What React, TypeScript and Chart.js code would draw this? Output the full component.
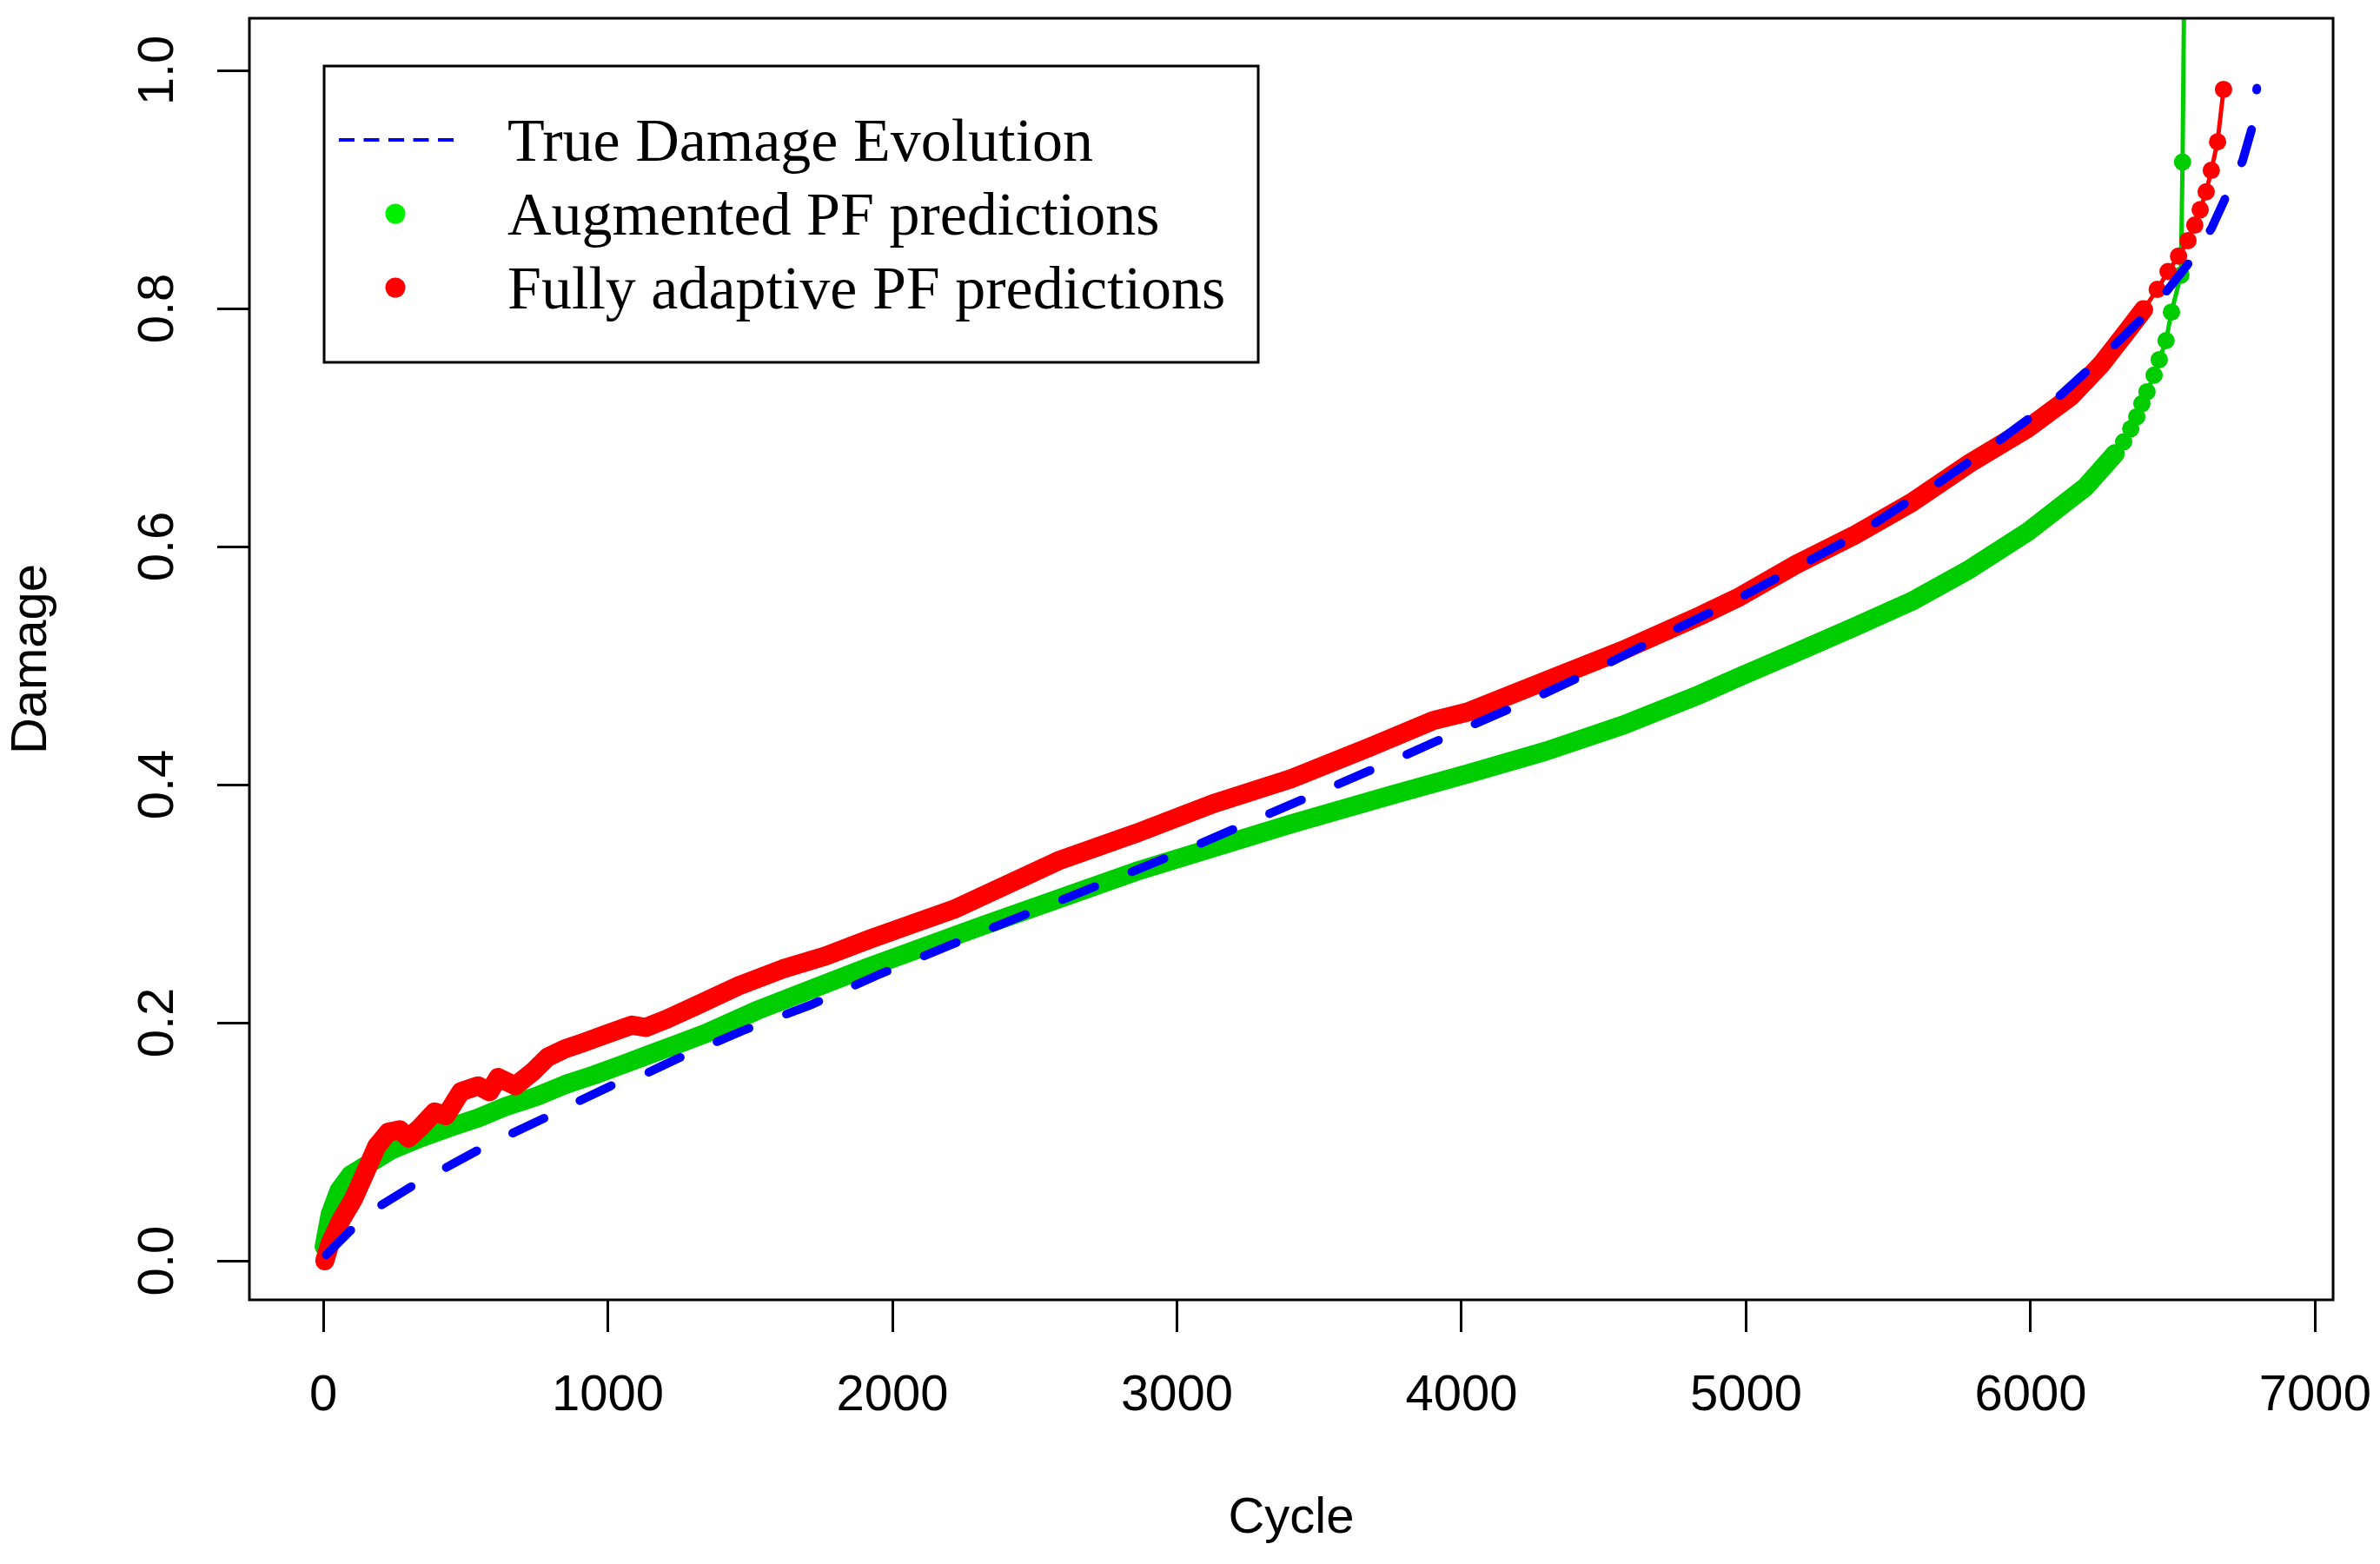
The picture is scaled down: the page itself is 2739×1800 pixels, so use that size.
import { useEffect, useRef } from "react";
import { Chart, registerables } from "chart.js";
Chart.register(...registerables);

// axis ticks
const xTicks = [0, 1000, 2000, 3000, 4000, 5000, 6000, 7000];
const yTicks = [0, 0.2, 0.4, 0.6, 0.8, 1.0];

// true damage evolution (dashed blue)
const trueCycle = [
  10, 106, 198, 320, 421, 544, 645, 778, 879, 1011, 1114, 1246, 1481, 1713, 1948,
  2364, 2843, 3087, 3319, 3563, 3805, 4037, 4269, 4500, 4731, 4962, 5182, 5398,
  5557, 5686, 5849, 5991, 6104, 6191, 6302, 6385, 6483, 6552, 6635, 6681, 6745,
  6782, 6795,
];
const trueDamage = [
  0.005, 0.028, 0.046, 0.064, 0.077, 0.093, 0.105, 0.12, 0.132, 0.147, 0.155, 0.17,
  0.194, 0.215, 0.24, 0.281, 0.327, 0.351, 0.375, 0.4, 0.425, 0.45, 0.474, 0.5,
  0.528, 0.555, 0.583, 0.611, 0.636, 0.655, 0.682, 0.707, 0.727, 0.746, 0.771,
  0.79, 0.816, 0.837, 0.867, 0.891, 0.924, 0.955, 0.985,
];

// augmented PF predictions (green)
const augCycle = [
  3, 24, 55, 95, 156, 238, 339, 443, 544, 645, 748, 849, 950, 1053, 1154, 1255,
  1344, 1521, 1713, 1908, 2310, 2855, 3401, 3750, 4021, 4295, 4568, 4840, 4971,
  5176, 5377, 5582, 5786, 5988, 6193, 6297, 6327, 6352, 6373, 6391, 6409, 6434,
  6452, 6476, 6495, 6528, 6534, 6545,
];
const augDamage = [
  0.012, 0.039, 0.059, 0.072, 0.081, 0.093, 0.103, 0.112, 0.12, 0.13, 0.138, 0.148,
  0.156, 0.165, 0.174, 0.183, 0.191, 0.21, 0.228, 0.246, 0.281, 0.327, 0.367,
  0.391, 0.409, 0.428, 0.45, 0.476, 0.49, 0.511, 0.532, 0.554, 0.581, 0.612, 0.65,
  0.678, 0.688, 0.699, 0.709, 0.72, 0.73, 0.744, 0.757, 0.773, 0.797, 0.828,
  0.923, 1.2,
];

// fully adaptive PF predictions (red)
const fullCycle = [
  5, 24, 64, 106, 147, 187, 228, 269, 299, 340, 391, 431, 483, 544, 584, 614, 675,
  737, 788, 849, 910, 1002, 1084, 1133, 1206, 1307, 1460, 1612, 1765, 1918, 2070,
  2223, 2583, 2855, 3127, 3401, 3673, 3902, 4021, 4295, 4568, 4840, 4971, 5176,
  5377, 5582, 5786, 5988, 6141, 6248, 6333, 6397, 6445, 6483, 6520, 6553, 6577,
  6596, 6617, 6635, 6657, 6678,
];
const fullDamage = [
  0.0, 0.015, 0.035, 0.052, 0.074, 0.096, 0.108, 0.11, 0.103, 0.112, 0.125, 0.122,
  0.142, 0.147, 0.142, 0.154, 0.147, 0.159, 0.171, 0.178, 0.183, 0.191, 0.198,
  0.196, 0.203, 0.214, 0.231, 0.245, 0.256, 0.27, 0.283, 0.296, 0.336, 0.359,
  0.384, 0.405, 0.431, 0.454, 0.461, 0.487, 0.513, 0.542, 0.557, 0.585, 0.609,
  0.637, 0.67, 0.699, 0.726, 0.753, 0.779, 0.799, 0.816, 0.831, 0.844, 0.857,
  0.87, 0.883, 0.898, 0.916, 0.94, 0.984,
];

const labels = [
  "True Damage Evolution",
  "Augmented PF predictions",
  "Fully adaptive PF predictions",
];

const BLUE = "#0000FF";
const GREEN = "#00CD00";
const GREEN_KEY = "#00F000";
const RED = "#FF0000";
const AXIS_FONT = { family: "'Liberation Sans', Arial, sans-serif", size: 58 };

const zip = (xs: number[], ys: number[]) => xs.map((x, i) => ({ x, y: ys[i] }));

// thick band where the points are packed, thin line where they spread out
const bandUntil = (limit: number) => (ctx: any) =>
  ctx.p1.parsed.x <= limit ? 22 : 5;

const rFrame = {
  id: "rFrame",
  afterDatasetsDraw(chart: any) {
    const { ctx, chartArea: a } = chart;
    ctx.save();
    ctx.strokeStyle = "#000";
    ctx.lineWidth = 3;
    ctx.strokeRect(a.left, a.top, a.right - a.left, a.bottom - a.top);
    ctx.restore();
  },
};

const rLegend = {
  id: "rLegend",
  afterDraw(chart: any) {
    const { ctx, chartArea: a } = chart;
    const ds = chart.data.datasets;
    const items = [
      { text: ds[0].label, color: BLUE, line: true },
      { text: ds[2].label, color: GREEN_KEY, line: false },
      { text: ds[1].label, color: RED, line: false },
    ];
    const x0 = a.left + 86;
    const y0 = a.top + 55;
    ctx.save();
    ctx.lineWidth = 3;
    ctx.strokeStyle = "#000";
    ctx.strokeRect(x0, y0, 1075, 341);
    ctx.font = "70px 'Liberation Serif', 'Times New Roman', serif";
    ctx.textBaseline = "alphabetic";
    items.forEach((it, i) => {
      const base = y0 + 109 + i * 85;
      const mid = base - 24;
      if (it.line) {
        ctx.strokeStyle = it.color;
        ctx.lineWidth = 4;
        ctx.setLineDash([18, 10.5]);
        ctx.beginPath();
        ctx.moveTo(x0 + 17, mid);
        ctx.lineTo(x0 + 149, mid);
        ctx.stroke();
        ctx.setLineDash([]);
      } else {
        ctx.fillStyle = it.color;
        ctx.beginPath();
        ctx.arc(x0 + 82, mid, 11.5, 0, Math.PI * 2);
        ctx.fill();
      }
      ctx.fillStyle = "#000";
      ctx.fillText(it.text, x0 + 211, base);
    });
    ctx.restore();
  },
};

export default function App() {
  const canvasRef = useRef<HTMLCanvasElement>(null);

  useEffect(() => {
    const canvas = canvasRef.current;
    if (!canvas) return;
    const chart = new Chart(canvas, {
      type: "line",
      data: {
        datasets: [
          {
            label: labels[0],
            data: zip(trueCycle, trueDamage),
            borderColor: BLUE,
            borderWidth: 10,
            borderDash: [40, 46],
            borderCapStyle: "round",
            pointRadius: 0,
            tension: 0,
            clip: 0,
          },
          {
            label: labels[2],
            data: zip(fullCycle, fullDamage),
            borderColor: RED,
            backgroundColor: RED,
            borderWidth: 22,
            borderJoinStyle: "round",
            borderCapStyle: "round",
            pointRadius: 10,
            pointBorderWidth: 0,
            tension: 0,
            clip: 0,
            segment: { borderWidth: bandUntil(6420) },
          },
          {
            label: labels[1],
            data: zip(augCycle, augDamage),
            borderColor: GREEN,
            backgroundColor: GREEN,
            borderWidth: 22,
            borderJoinStyle: "round",
            borderCapStyle: "round",
            pointRadius: 10,
            pointBorderWidth: 0,
            tension: 0,
            clip: 0,
            segment: { borderWidth: bandUntil(6300) },
          },
        ],
      },
      options: {
        animation: false,
        responsive: false,
        events: [],
        layout: { padding: { top: 21, right: 54, left: 0, bottom: 0 } },
        plugins: { legend: { display: false }, tooltip: { enabled: false } },
        scales: {
          x: {
            type: "linear",
            min: -260,
            max: 7063,
            afterBuildTicks: (s: any) => {
              s.ticks = xTicks.map((v) => ({ value: v }));
            },
            afterFit: (s: any) => {
              s.height = 304;
              s.paddingLeft = 0;
              s.paddingRight = 0;
            },
            border: { display: false },
            grid: {
              drawOnChartArea: false,
              drawTicks: true,
              tickLength: 37,
              color: "#000",
              lineWidth: 3,
            },
            ticks: {
              color: "#000",
              font: AXIS_FONT,
              padding: 39,
              maxRotation: 0,
              autoSkip: false,
              callback: (v: any) => String(v),
            },
            title: {
              display: true,
              text: "Cycle",
              color: "#000",
              font: AXIS_FONT,
              padding: { bottom: 17 },
            },
          },
          y: {
            type: "linear",
            min: -0.0328,
            max: 1.0438,
            afterBuildTicks: (s: any) => {
              s.ticks = yTicks.map((v) => ({ value: v }));
            },
            afterFit: (s: any) => {
              s.width = 287;
              s.paddingTop = 0;
              s.paddingBottom = 0;
            },
            border: { display: false },
            grid: {
              drawOnChartArea: false,
              drawTicks: true,
              tickLength: 37,
              color: "#000",
              lineWidth: 3,
            },
            ticks: {
              color: "#000",
              font: AXIS_FONT,
              padding: 27,
              minRotation: 90,
              maxRotation: 90,
              crossAlign: "center",
              autoSkip: false,
              callback: (v: any) => Number(v).toFixed(1),
            },
            title: {
              display: true,
              text: "Damage",
              color: "#000",
              font: AXIS_FONT,
              padding: { top: 2 },
            },
          },
        },
      },
      plugins: [rFrame, rLegend],
    });
    return () => chart.destroy();
  }, []);

  return (
    <div style={{ position: "absolute", left: 0, top: 0, width: 2739, height: 1800, background: "#fff" }}>
      <canvas ref={canvasRef} width={2739} height={1800} style={{ display: "block" }} />
    </div>
  );
}
